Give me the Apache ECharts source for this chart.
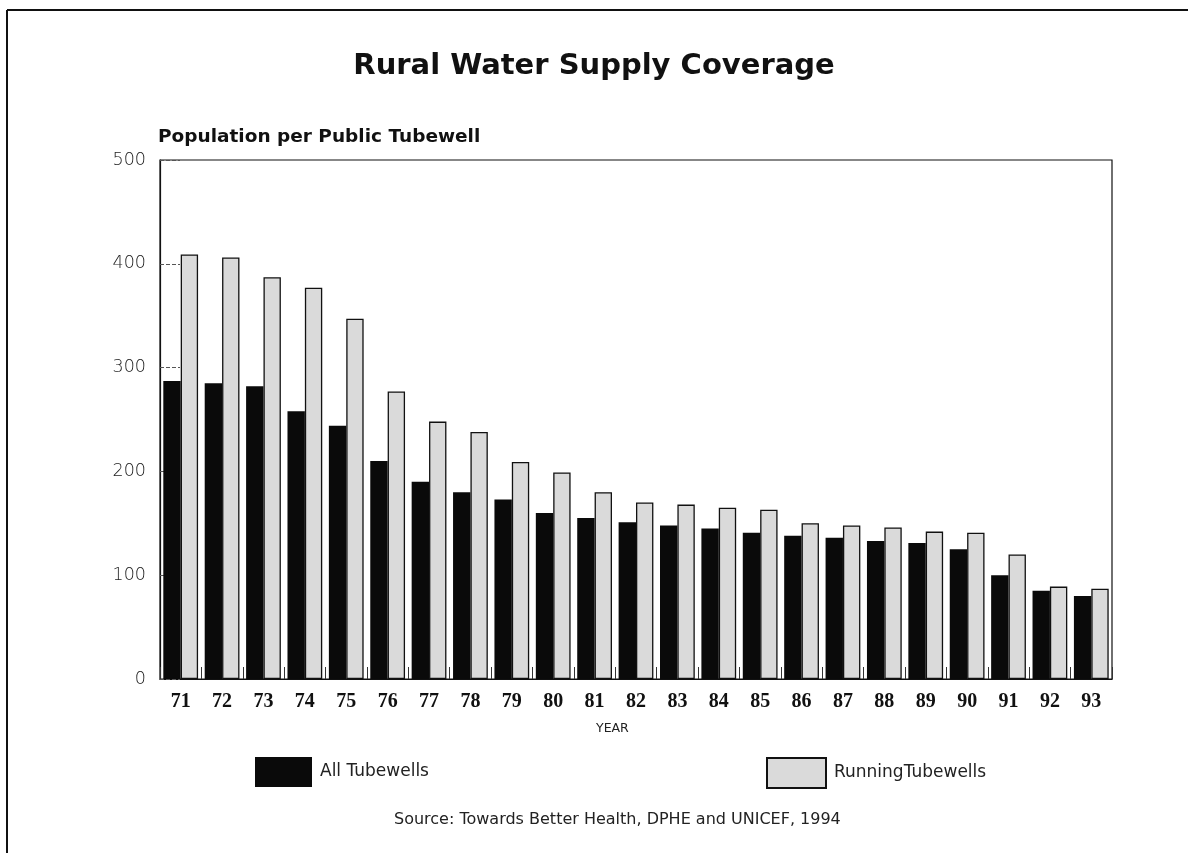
<!DOCTYPE html>
<html>
<head>
<meta charset="utf-8">
<script src="https://cdn.jsdelivr.net/npm/echarts@6/dist/echarts.min.js"></script>
<style>
html,body{margin:0;padding:0;background:#fff;}
#chart{width:1188px;height:853px;}
</style>
</head>
<body>
<div id="chart"></div>
<script>
const years = ['71','72','73','74','75','76','77','78','79','80','81','82','83','84','85','86','87','88','89','90','91','92','93'];
const allTubewells = [287,285,282,258,244,210,190,180,173,160,155,151,148,145,141,138,136,133,131,125,100,85,80];
const runningTubewells = [409,406,387,377,347,277,248,238,209,199,180,170,168,165,163,150,148,146,142,141,120,89,87];
const yTicks = [0,100,200,300,400,500];

const chart = echarts.init(document.getElementById('chart'));
const option = {
  backgroundColor: '#fff',
  animation: false,
  title: {
    text: 'Rural Water Supply Coverage',
    left: 'center',
    top: 47,
    textStyle: {fontFamily: 'DejaVu Sans', fontWeight: 'bold', fontSize: 29, color: '#111'}
  },
  grid: {left: 160, right: 76, top: 160, bottom: 174, show: true, borderColor: '#111', borderWidth: 1.2, backgroundColor: 'transparent'},
  legend: [
    {data: ['All Tubewells'], left: 250, top: 752, itemWidth: 57, itemHeight: 30,
     textStyle: {fontFamily: 'DejaVu Sans', fontSize: 17, color: '#222', padding: [0,0,0,3]}, icon: 'rect'},
    {data: ['RunningTubewells'], left: 761, top: 752, itemWidth: 59, itemHeight: 30,
     textStyle: {fontFamily: 'DejaVu Sans', fontSize: 17, color: '#222', padding: [0,0,0,3]}, icon: 'rect'}
  ],
  xAxis: {
    type: 'category',
    data: years,
    axisLine: {lineStyle: {color: '#111', width: 1.2}},
    axisTick: {show: true, inside: true, length: 12, lineStyle: {color: '#333'}},
    axisLabel: {fontFamily: 'Liberation Serif', fontWeight: 'bold', fontSize: 20, color: '#111', margin: 13}
  },
  yAxis: {
    type: 'value',
    min: yTicks[0], max: yTicks[yTicks.length-1], interval: 100,
    name: 'Population per Public Tubewell',
    nameLocation: 'end',
    nameGap: 23,
    nameTextStyle: {align: 'left', verticalAlign: 'middle', fontFamily: 'DejaVu Sans', fontWeight: 'bold', fontSize: 18.5, color: '#111', padding: [0,0,0,-2]},
    axisLine: {show: true, lineStyle: {color: '#111', width: 1.2}},
    axisTick: {show: true, inside: true, length: 20, lineStyle: {color: '#555', type: 'dashed', width: 1}},
    splitLine: {show: false},
    axisLabel: {fontFamily: 'DejaVu Sans', fontWeight: 200, fontSize: 17.5, color: '#222', margin: 14}
  },
  series: [
    {name: 'All Tubewells', type: 'bar', data: allTubewells, barGap: '0%', barCategoryGap: '16%',
     itemStyle: {color: '#0a0a0a'}},
    {name: 'RunningTubewells', type: 'bar', data: runningTubewells,
     itemStyle: {color: '#dadada', borderColor: '#111', borderWidth: 1.3}}
  ],
  graphic: [
    {type: 'line', shape: {x1: 7, y1: 10, x2: 1188, y2: 10}, style: {stroke: '#111', lineWidth: 2}},
    {type: 'line', shape: {x1: 7, y1: 10, x2: 7, y2: 853}, style: {stroke: '#111', lineWidth: 2}},
    {type: 'text', left: 596, top: 722, style: {text: 'YEAR', fontFamily: 'DejaVu Sans', fontSize: 12.5, fill: '#222'}},
    {type: 'text', left: 394, top: 812, style: {text: 'Source: Towards Better Health, DPHE and UNICEF, 1994', fontFamily: 'DejaVu Sans', fontSize: 16, fill: '#222'}}
  ]
};
chart.setOption(option);
</script>
</body>
</html>
